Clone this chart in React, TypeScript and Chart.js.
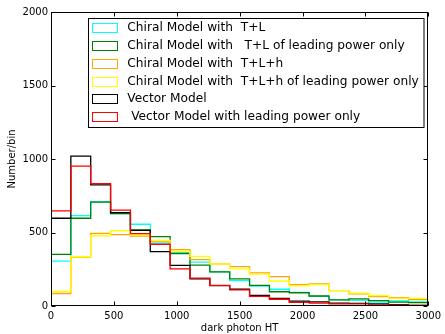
import React, { useEffect, useRef } from "react";
import { Chart, registerables } from "chart.js";

Chart.register(...registerables);

// ---- Data ----
const HT_MIN = 0;
const HT_MAX = 3000;
const N_BINS = 19;
const xTickStep = 500;
const yMax = 2000;
const yTickStep = 500;

const seriesLabels = [
  "Chiral Model with  T+L",
  "Chiral Model with   T+L of leading power only",
  "Chiral Model with  T+L+h",
  "Chiral Model with  T+L+h of leading power only",
  "Vector Model",
  " Vector Model with leading power only",
];
const seriesColors = ["#00ffff", "#008000", "#ffa500", "#ffff00", "#000000", "#ff0000"];

const chiralTL = [305, 615, 710, 628, 556, 430, 362, 298, 232, 172, 136, 114, 93, 66, 42, 38, 27, 34, 28];
const chiralTLLeading = [351, 597, 706, 628, 517, 472, 357, 278, 232, 184, 140, 97, 90, 68, 42, 48, 36, 27, 23];
const chiralTLh = [85, 333, 494, 486, 476, 441, 383, 316, 287, 268, 225, 200, 145, 150, 105, 82, 64, 57, 44];
const chiralTLhLeading = [100, 335, 478, 512, 483, 447, 372, 338, 286, 252, 217, 170, 137, 145, 105, 88, 70, 52, 52];
const vectorModel = [597, 1020, 824, 635, 514, 370, 277, 184, 139, 114, 72, 51, 33, 28, 20, 18, 14, 10, 4];
const vectorLeading = [647, 952, 833, 652, 492, 420, 252, 190, 140, 110, 66, 46, 24, 19, 15, 15, 7, 5, 4];

const seriesValues = [chiralTL, chiralTLLeading, chiralTLh, chiralTLhLeading, vectorModel, vectorLeading];

const binEdges = Array.from({ length: N_BINS + 1 }, (_, i) => HT_MIN + (i * (HT_MAX - HT_MIN)) / N_BINS);

function stepPoints(values: number[]) {
  const pts: { x: number; y: number }[] = [{ x: binEdges[0], y: 0 }];
  values.forEach((v, i) => pts.push({ x: binEdges[i], y: v }));
  pts.push({ x: binEdges[N_BINS], y: values[N_BINS - 1] });
  pts.push({ x: binEdges[N_BINS], y: 0 });
  return pts;
}

const FONT = "'DejaVu Sans', sans-serif";

const framePlugin = {
  id: "frameAndLegend",
  afterDraw(chart: any) {
    const ctx = chart.ctx as CanvasRenderingContext2D;
    const { left, right, top, bottom } = chart.chartArea;
    const xs = chart.scales.x;
    const ys = chart.scales.y;
    ctx.save();
    ctx.strokeStyle = "#000";
    ctx.lineWidth = 1;
    const L = Math.round(left) + 0.5;
    const R = Math.round(right) - 0.5;
    const T = Math.round(top) + 0.5;
    const B = Math.round(bottom) - 0.5;
    ctx.strokeRect(L, T, R - L, B - T);
    const tl = 4;
    ctx.beginPath();
    xs.ticks.forEach((t: any) => {
      const px = Math.round(xs.getPixelForValue(t.value)) + 0.5;
      ctx.moveTo(px, B);
      ctx.lineTo(px, B - tl);
      ctx.moveTo(px, T);
      ctx.lineTo(px, T + tl);
    });
    ys.ticks.forEach((t: any) => {
      const py = Math.round(ys.getPixelForValue(t.value)) + 0.5;
      ctx.moveTo(L, py);
      ctx.lineTo(L + tl, py);
      ctx.moveTo(R, py);
      ctx.lineTo(R - tl, py);
    });
    ctx.stroke();

    // legend
    const lx = 88.5;
    const ly = 18.5;
    const lw = 335.5;
    const lh = 109;
    ctx.fillStyle = "#fff";
    ctx.fillRect(lx, ly, lw, lh);
    ctx.strokeStyle = "#000";
    ctx.strokeRect(lx, ly, lw, lh);
    ctx.font = `12.2px ${FONT}`;
    ctx.textBaseline = "middle";
    ctx.textAlign = "left";
    chart.data.datasets.forEach((ds: any, i: number) => {
      const cy = 27.8 + i * 17.75;
      ctx.strokeStyle = ds.borderColor;
      ctx.lineWidth = 1;
      ctx.strokeRect(92.5, Math.round(cy - 4.5) + 0.5, 25, 9);
      ctx.fillStyle = "#000";
      ctx.fillText(ds.label, 127.3, cy + 0.5);
    });
    ctx.restore();
  },
};

const plainTick = (v: any) => String(v);

export default function App() {
  const ref = useRef<HTMLCanvasElement | null>(null);
  useEffect(() => {
    if (!ref.current) return;
    const chart = new Chart(ref.current, {
      type: "line",
      data: {
        datasets: seriesValues.map((vals, i) => ({
          label: seriesLabels[i],
          data: stepPoints(vals),
          borderColor: seriesColors[i],
          backgroundColor: "transparent",
          borderWidth: 1.3,
          pointRadius: 0,
          stepped: true,
          fill: false,
          tension: 0,
          order: seriesValues.length - 1 - i,
        })),
      },
      options: {
        animation: false,
        responsive: false,
        devicePixelRatio: 1,
        layout: { padding: { left: 0, right: 14, top: 12, bottom: 0 } },
        plugins: { legend: { display: false }, tooltip: { enabled: false } },
        scales: {
          x: {
            type: "linear",
            min: HT_MIN,
            max: HT_MAX,
            ticks: {
              stepSize: xTickStep,
              font: { family: FONT, size: 10 },
              color: "#000",
              padding: 4,
              maxRotation: 0,
              autoSkip: false,
              callback: plainTick,
            },
            grid: { display: false, drawTicks: false },
            border: { display: false },
            title: {
              display: true,
              text: "dark photon HT",
              font: { family: FONT, size: 10 },
              color: "#000",
              padding: { top: 0, bottom: 0 },
            },
            afterFit(s: any) {
              s.height = 28;
            },
          },
          y: {
            min: 0,
            max: yMax,
            ticks: {
              stepSize: yTickStep,
              font: { family: FONT, size: 10 },
              color: "#000",
              padding: 3,
              callback: plainTick,
            },
            grid: { display: false, drawTicks: false },
            border: { display: false },
            title: {
              display: true,
              text: "Number/bin",
              font: { family: FONT, size: 10 },
              color: "#000",
              padding: { top: 6, bottom: 0 },
            },
            afterFit(s: any) {
              s.width = 51;
            },
          },
        },
      },
      plugins: [framePlugin],
    } as any);
    return () => chart.destroy();
  }, []);
  return (
    <div style={{ position: "fixed", left: 0, top: 0, width: 445, height: 334, background: "#fff" }}>
      <canvas ref={ref} width={445} height={334} style={{ display: "block" }} />
    </div>
  );
}
